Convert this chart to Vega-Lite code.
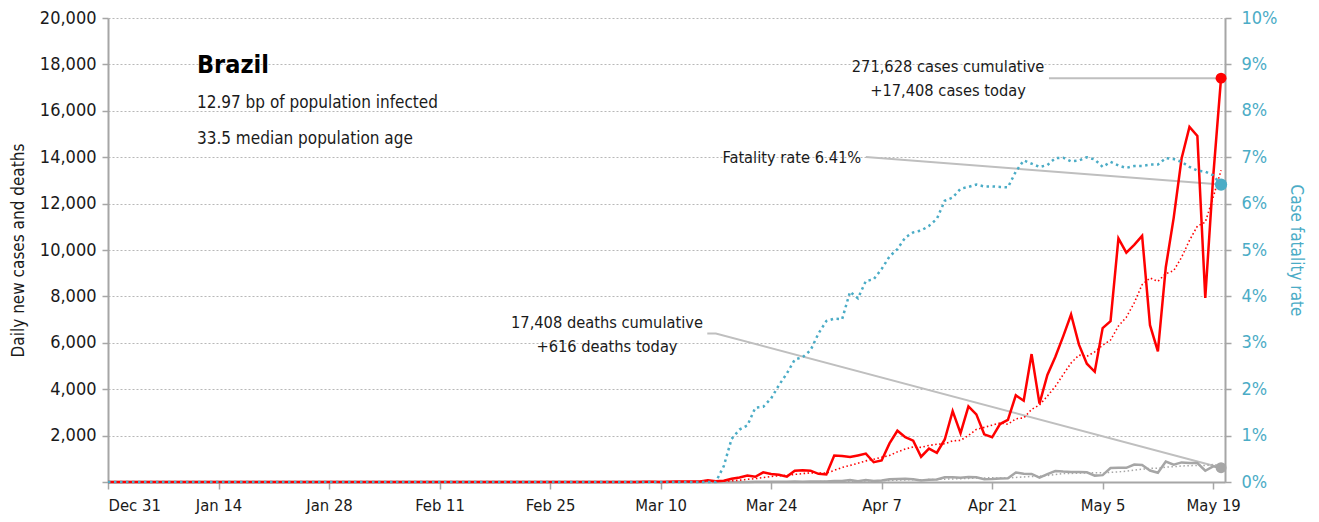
{
  "$schema": "https://vega.github.io/schema/vega-lite/v6.json",
  "width": 1117,
  "height": 464,
  "autosize": {"type": "none"},
  "padding": {"left": 108, "top": 18, "right": 94, "bottom": 40},
  "background": "#ffffff",
  "config": {
    "view": {"stroke": null},
    "font": "DejaVu Sans Condensed, sans-serif",
    "axis": {
      "domainColor": "#a6a6a6", "domainWidth": 2, "tickColor": "#a6a6a6", "tickWidth": 1.5, "tickSize": 6,
      "labelFontSize": 18, "labelColor": "#1a1a1a", "labelFont": "DejaVu Sans Condensed, sans-serif",
      "titleFont": "DejaVu Sans Condensed, sans-serif", "titleFontWeight": "normal", "titleFontSize": 17, "titleColor": "#1a1a1a"
    },
    "axisLeft": {"grid": true, "gridColor": "#b8b8b8", "gridDash": [2, 2], "gridWidth": 1.2, "titlePadding": 12, "labelPadding": 6},
    "axisRight": {"grid": false, "labelColor": "#4bacc6", "titleColor": "#4bacc6", "labelPadding": 10, "titlePadding": 10},
    "axisBottom": {"grid": false, "labelFontSize": 16.5, "labelPadding": 8, "tickSize": 7}
  },
  "data": {
    "format": {"parse": {"d": "date:'%Y-%m-%d'"}},
    "values": [
      {"d": "2019-12-31", "c": 0, "ca": 0, "dd": 0, "da": 0, "f": 0},
      {"d": "2020-01-14", "c": 0, "ca": 0, "dd": 0, "da": 0, "f": 0},
      {"d": "2020-01-28", "c": 0, "ca": 0, "dd": 0, "da": 0, "f": 0},
      {"d": "2020-02-11", "c": 0, "ca": 0, "dd": 0, "da": 0, "f": 0},
      {"d": "2020-02-25", "c": 0, "ca": 0, "dd": 0, "da": 0, "f": 0},
      {"d": "2020-02-26", "c": 0, "ca": 0, "dd": 0, "da": 0, "f": 0},
      {"d": "2020-02-27", "c": 1, "ca": 0.1, "dd": 0, "da": 0, "f": 0},
      {"d": "2020-02-28", "c": 0, "ca": 0.1, "dd": 0, "da": 0, "f": 0},
      {"d": "2020-02-29", "c": 0, "ca": 0.1, "dd": 0, "da": 0, "f": 0},
      {"d": "2020-03-01", "c": 1, "ca": 0.3, "dd": 0, "da": 0, "f": 0},
      {"d": "2020-03-02", "c": 0, "ca": 0.3, "dd": 0, "da": 0, "f": 0},
      {"d": "2020-03-03", "c": 0, "ca": 0.3, "dd": 0, "da": 0, "f": 0},
      {"d": "2020-03-04", "c": 0, "ca": 0.3, "dd": 0, "da": 0, "f": 0},
      {"d": "2020-03-05", "c": 1, "ca": 0.3, "dd": 0, "da": 0, "f": 0},
      {"d": "2020-03-06", "c": 5, "ca": 1.0, "dd": 0, "da": 0, "f": 0},
      {"d": "2020-03-07", "c": 5, "ca": 1.7, "dd": 0, "da": 0, "f": 0},
      {"d": "2020-03-08", "c": 6, "ca": 2.4, "dd": 0, "da": 0, "f": 0},
      {"d": "2020-03-09", "c": 6, "ca": 3.3, "dd": 0, "da": 0, "f": 0},
      {"d": "2020-03-10", "c": 0, "ca": 3.3, "dd": 0, "da": 0, "f": 0},
      {"d": "2020-03-11", "c": 9, "ca": 4.6, "dd": 0, "da": 0, "f": 0},
      {"d": "2020-03-12", "c": 18, "ca": 7, "dd": 0, "da": 0, "f": 0},
      {"d": "2020-03-13", "c": 25, "ca": 9.9, "dd": 0, "da": 0, "f": 0},
      {"d": "2020-03-14", "c": 21, "ca": 12.1, "dd": 0, "da": 0, "f": 0},
      {"d": "2020-03-15", "c": 23, "ca": 14.6, "dd": 0, "da": 0, "f": 0},
      {"d": "2020-03-16", "c": 79, "ca": 25, "dd": 0, "da": 0, "f": 0},
      {"d": "2020-03-17", "c": 34, "ca": 29.9, "dd": 0, "da": 0, "f": 0},
      {"d": "2020-03-18", "c": 57, "ca": 36.7, "dd": 1, "da": 0.1, "f": 0.34},
      {"d": "2020-03-19", "c": 137, "ca": 53.7, "dd": 3, "da": 0.6, "f": 0.93},
      {"d": "2020-03-20", "c": 193, "ca": 77.7, "dd": 3, "da": 1.0, "f": 1.13},
      {"d": "2020-03-21", "c": 283, "ca": 115.1, "dd": 4, "da": 1.6, "f": 1.22},
      {"d": "2020-03-22", "c": 224, "ca": 143.9, "dd": 7, "da": 2.6, "f": 1.60},
      {"d": "2020-03-23", "c": 418, "ca": 192.3, "dd": 7, "da": 3.6, "f": 1.62},
      {"d": "2020-03-24", "c": 345, "ca": 236.7, "dd": 9, "da": 4.9, "f": 1.80},
      {"d": "2020-03-25", "c": 310, "ca": 272.9, "dd": 12, "da": 6.4, "f": 2.09},
      {"d": "2020-03-26", "c": 232, "ca": 286.4, "dd": 11, "da": 7.6, "f": 2.34},
      {"d": "2020-03-27", "c": 482, "ca": 327.7, "dd": 20, "da": 10, "f": 2.64},
      {"d": "2020-03-28", "c": 502, "ca": 359, "dd": 15, "da": 11.6, "f": 2.69},
      {"d": "2020-03-29", "c": 487, "ca": 396.6, "dd": 19, "da": 13.3, "f": 2.84},
      {"d": "2020-03-30", "c": 352, "ca": 387.1, "dd": 25, "da": 15.9, "f": 3.20},
      {"d": "2020-03-31", "c": 323, "ca": 384, "dd": 23, "da": 17.9, "f": 3.47},
      {"d": "2020-04-01", "c": 1138, "ca": 502.3, "dd": 42, "da": 22.1, "f": 3.52},
      {"d": "2020-04-02", "c": 1119, "ca": 629, "dd": 39, "da": 26.1, "f": 3.51},
      {"d": "2020-04-03", "c": 1074, "ca": 713.6, "dd": 84, "da": 35.3, "f": 4.10},
      {"d": "2020-04-04", "c": 1146, "ca": 805.6, "dd": 35, "da": 38.1, "f": 3.96},
      {"d": "2020-04-05", "c": 1222, "ca": 910.6, "dd": 86, "da": 47.7, "f": 4.33},
      {"d": "2020-04-06", "c": 852, "ca": 982, "dd": 41, "da": 50, "f": 4.37},
      {"d": "2020-04-07", "c": 926, "ca": 1068.1, "dd": 67, "da": 56.3, "f": 4.59},
      {"d": "2020-04-08", "c": 1661, "ca": 1142.9, "dd": 114, "da": 66.6, "f": 4.86},
      {"d": "2020-04-09", "c": 2210, "ca": 1298.7, "dd": 133, "da": 80, "f": 5.02},
      {"d": "2020-04-10", "c": 1930, "ca": 1421, "dd": 141, "da": 88.1, "f": 5.27},
      {"d": "2020-04-11", "c": 1781, "ca": 1511.7, "dd": 115, "da": 99.6, "f": 5.38},
      {"d": "2020-04-12", "c": 1089, "ca": 1492.7, "dd": 68, "da": 97, "f": 5.42},
      {"d": "2020-04-13", "c": 1442, "ca": 1577, "dd": 99, "da": 105.3, "f": 5.52},
      {"d": "2020-04-14", "c": 1261, "ca": 1624.9, "dd": 105, "da": 110.7, "f": 5.67},
      {"d": "2020-04-15", "c": 1832, "ca": 1649.3, "dd": 204, "da": 123.6, "f": 6.06},
      {"d": "2020-04-16", "c": 3058, "ca": 1770.4, "dd": 204, "da": 133.7, "f": 6.13},
      {"d": "2020-04-17", "c": 2105, "ca": 1795.4, "dd": 188, "da": 140.4, "f": 6.32},
      {"d": "2020-04-18", "c": 3257, "ca": 2006.3, "dd": 217, "da": 155, "f": 6.36},
      {"d": "2020-04-19", "c": 2917, "ca": 2267.4, "dd": 206, "da": 174.7, "f": 6.41},
      {"d": "2020-04-20", "c": 2055, "ca": 2355, "dd": 115, "da": 177, "f": 6.37},
      {"d": "2020-04-21", "c": 1927, "ca": 2450.1, "dd": 125, "da": 179.9, "f": 6.37},
      {"d": "2020-04-22", "c": 2498, "ca": 2545.3, "dd": 154, "da": 172.7, "f": 6.36},
      {"d": "2020-04-23", "c": 2678, "ca": 2491, "dd": 165, "da": 167.1, "f": 6.35},
      {"d": "2020-04-24", "c": 3735, "ca": 2723.9, "dd": 407, "da": 198.4, "f": 6.69},
      {"d": "2020-04-25", "c": 3503, "ca": 2759, "dd": 357, "da": 218.4, "f": 6.93},
      {"d": "2020-04-26", "c": 5514, "ca": 3130, "dd": 346, "da": 238.4, "f": 6.86},
      {"d": "2020-04-27", "c": 3379, "ca": 3319.1, "dd": 189, "da": 249, "f": 6.79},
      {"d": "2020-04-28", "c": 4613, "ca": 3702.9, "dd": 338, "da": 279.4, "f": 6.83},
      {"d": "2020-04-29", "c": 5385, "ca": 4115.3, "dd": 474, "da": 325.1, "f": 6.98},
      {"d": "2020-04-30", "c": 6276, "ca": 4629.3, "dd": 449, "da": 365.7, "f": 6.99},
      {"d": "2020-05-01", "c": 7218, "ca": 5126.9, "dd": 435, "da": 369.7, "f": 6.91},
      {"d": "2020-05-02", "c": 5919, "ca": 5472, "dd": 428, "da": 379.9, "f": 6.93},
      {"d": "2020-05-03", "c": 5097, "ca": 5412.4, "dd": 421, "da": 390.6, "f": 7.00},
      {"d": "2020-05-04", "c": 4751, "ca": 5608.4, "dd": 275, "da": 402.9, "f": 6.95},
      {"d": "2020-05-05", "c": 6633, "ca": 5897, "dd": 296, "da": 396.9, "f": 6.79},
      {"d": "2020-05-06", "c": 6935, "ca": 6118.4, "dd": 600, "da": 414.9, "f": 6.90},
      {"d": "2020-05-07", "c": 10503, "ca": 6722.3, "dd": 615, "da": 438.6, "f": 6.82},
      {"d": "2020-05-08", "c": 9888, "ca": 7103.7, "dd": 610, "da": 463.6, "f": 6.77},
      {"d": "2020-05-09", "c": 10222, "ca": 7718.4, "dd": 751, "da": 509.7, "f": 6.81},
      {"d": "2020-05-10", "c": 10611, "ca": 8506.1, "dd": 730, "da": 553.9, "f": 6.81},
      {"d": "2020-05-11", "c": 6760, "ca": 8793.1, "dd": 496, "da": 585.4, "f": 6.84},
      {"d": "2020-05-12", "c": 5632, "ca": 8650.1, "dd": 396, "da": 599.7, "f": 6.84},
      {"d": "2020-05-13", "c": 9258, "ca": 8982, "dd": 881, "da": 639.9, "f": 6.98},
      {"d": "2020-05-14", "c": 11385, "ca": 9108, "dd": 749, "da": 659, "f": 6.96},
      {"d": "2020-05-15", "c": 13944, "ca": 9687.4, "dd": 844, "da": 692.4, "f": 6.90},
      {"d": "2020-05-16", "c": 15305, "ca": 10413.6, "dd": 824, "da": 702.9, "f": 6.79},
      {"d": "2020-05-17", "c": 14919, "ca": 11029, "dd": 816, "da": 715.1, "f": 6.71},
      {"d": "2020-05-18", "c": 7938, "ca": 11197.3, "dd": 485, "da": 713.6, "f": 6.69},
      {"d": "2020-05-19", "c": 13140, "ca": 12269.9, "dd": 674, "da": 753.3, "f": 6.61},
      {"d": "2020-05-20", "c": 17408, "ca": 13434.1, "dd": 616, "da": 715.4, "f": 6.41}
    ]
  },
  "encoding": {
    "x": {
      "field": "d", "type": "temporal",
      "scale": {"domain": [{"year": 2019, "month": 12, "date": 31}, {"year": 2020, "month": 5, "date": 20, "hours": 12}]},
      "axis": {
        "title": null, "format": "%b %-d",
        "values": [
          {"year": 2019, "month": 12, "date": 31}, {"year": 2020, "month": 1, "date": 14}, {"year": 2020, "month": 1, "date": 28},
          {"year": 2020, "month": 2, "date": 11}, {"year": 2020, "month": 2, "date": 25}, {"year": 2020, "month": 3, "date": 10},
          {"year": 2020, "month": 3, "date": 24}, {"year": 2020, "month": 4, "date": 7}, {"year": 2020, "month": 4, "date": 21},
          {"year": 2020, "month": 5, "date": 5}, {"year": 2020, "month": 5, "date": 19}
        ]
      }
    }
  },
  "layer": [
    {
      "layer": [
        {
          "data": {
            "format": {"parse": {"d": "date:'%Y-%m-%d %H:%M'"}},
            "values": [
              {"g": "c", "d": "2020-04-28 05:00", "v": 17408},
              {"g": "c", "d": "2020-05-20 00:00", "v": 17408},
              {"g": "f", "d": "2020-04-05 00:00", "v": 14009},
              {"g": "f", "d": "2020-05-20 00:00", "v": 12820},
              {"g": "x", "d": "2020-03-15 22:00", "v": 6400},
              {"g": "x", "d": "2020-03-17 00:00", "v": 6400},
              {"g": "x", "d": "2020-05-20 00:00", "v": 616}
            ]
          },
          "mark": {"type": "line", "color": "#bfbfbf", "strokeWidth": 2},
          "encoding": {
            "y": {"field": "v", "type": "quantitative", "scale": {"domain": [0, 20000]}, "axis": {"orient": "left", "title": "Daily new cases and deaths", "values": [0, 2000, 4000, 6000, 8000, 10000, 12000, 14000, 16000, 18000, 20000], "labelExpr": "datum.value == 0 ? '' : format(datum.value, ',')"}},
            "detail": {"field": "g"}
          }
        },
        {
          "mark": {"type": "line", "color": "#a6a6a6", "strokeWidth": 1.5, "strokeDash": [1.5, 2.5]},
          "encoding": {"y": {"field": "da", "type": "quantitative", "scale": {"domain": [0, 20000]}, "axis": {"orient": "left", "title": "Daily new cases and deaths", "values": [0, 2000, 4000, 6000, 8000, 10000, 12000, 14000, 16000, 18000, 20000], "labelExpr": "datum.value == 0 ? '' : format(datum.value, ',')"}}}
        },
        {
          "mark": {"type": "line", "color": "#a6a6a6", "strokeWidth": 2.5},
          "encoding": {"y": {"field": "dd", "type": "quantitative", "scale": {"domain": [0, 20000]}, "axis": {"orient": "left", "title": "Daily new cases and deaths", "values": [0, 2000, 4000, 6000, 8000, 10000, 12000, 14000, 16000, 18000, 20000], "labelExpr": "datum.value == 0 ? '' : format(datum.value, ',')"}}}
        },
        {
          "mark": {"type": "line", "color": "#ff0000", "strokeWidth": 1.6, "strokeDash": [1.5, 2.5]},
          "encoding": {"y": {"field": "ca", "type": "quantitative", "scale": {"domain": [0, 20000]}, "axis": {"orient": "left", "title": "Daily new cases and deaths", "values": [0, 2000, 4000, 6000, 8000, 10000, 12000, 14000, 16000, 18000, 20000], "labelExpr": "datum.value == 0 ? '' : format(datum.value, ',')"}}}
        },
        {
          "mark": {"type": "line", "color": "#ff0000", "strokeWidth": 2.5},
          "encoding": {"y": {"field": "c", "type": "quantitative", "scale": {"domain": [0, 20000]}, "axis": {"orient": "left", "title": "Daily new cases and deaths", "values": [0, 2000, 4000, 6000, 8000, 10000, 12000, 14000, 16000, 18000, 20000], "labelExpr": "datum.value == 0 ? '' : format(datum.value, ',')"}}}
        },
        {
          "data": {"format": {"parse": {"d": "date:'%Y-%m-%d'"}}, "values": [{"d": "2020-05-20", "v": 616}]},
          "mark": {"type": "circle", "color": "#a6a6a6", "opacity": 1, "size": 120},
          "encoding": {"y": {"field": "v", "type": "quantitative", "scale": {"domain": [0, 20000]}, "axis": {"orient": "left", "title": "Daily new cases and deaths", "values": [0, 2000, 4000, 6000, 8000, 10000, 12000, 14000, 16000, 18000, 20000], "labelExpr": "datum.value == 0 ? '' : format(datum.value, ',')"}}}
        },
        {
          "data": {"format": {"parse": {"d": "date:'%Y-%m-%d'"}}, "values": [{"d": "2020-05-20", "v": 17408}]},
          "mark": {"type": "circle", "color": "#ff0000", "opacity": 1, "size": 120},
          "encoding": {"y": {"field": "v", "type": "quantitative", "scale": {"domain": [0, 20000]}, "axis": {"orient": "left", "title": "Daily new cases and deaths", "values": [0, 2000, 4000, 6000, 8000, 10000, 12000, 14000, 16000, 18000, 20000], "labelExpr": "datum.value == 0 ? '' : format(datum.value, ',')"}}}
        },
        {
          "data": {"format": {"parse": {"d": "date:'%Y-%m-%d %H:%M'"}}, "values": [{"d": "2020-01-11 06:30", "v": 17974, "t": "Brazil"}]},
          "mark": {"type": "text", "align": "left", "baseline": "middle", "fontSize": 25, "fontWeight": "bold", "color": "#000000"},
          "encoding": {"y": {"field": "v", "type": "quantitative", "scale": {"domain": [0, 20000]}, "axis": {"orient": "left", "title": "Daily new cases and deaths", "values": [0, 2000, 4000, 6000, 8000, 10000, 12000, 14000, 16000, 18000, 20000], "labelExpr": "datum.value == 0 ? '' : format(datum.value, ',')"}}, "text": {"field": "t"}}
        },
        {
          "data": {"format": {"parse": {"d": "date:'%Y-%m-%d %H:%M'"}}, "values": [
            {"d": "2020-01-11 06:30", "v": 16336, "t": "12.97 bp of population infected"},
            {"d": "2020-01-11 06:30", "v": 14784, "t": "33.5 median population age"}
          ]},
          "mark": {"type": "text", "align": "left", "baseline": "middle", "fontSize": 17, "color": "#1a1a1a"},
          "encoding": {"y": {"field": "v", "type": "quantitative", "scale": {"domain": [0, 20000]}, "axis": {"orient": "left", "title": "Daily new cases and deaths", "values": [0, 2000, 4000, 6000, 8000, 10000, 12000, 14000, 16000, 18000, 20000], "labelExpr": "datum.value == 0 ? '' : format(datum.value, ',')"}}, "text": {"field": "t"}}
        },
        {
          "data": {"format": {"parse": {"d": "date:'%Y-%m-%d %H:%M'"}}, "values": [
            {"d": "2020-04-15 10:00", "v": 17888, "t": "271,628 cases cumulative"},
            {"d": "2020-04-15 10:00", "v": 16853, "t": "+17,408 cases today"},
            {"d": "2020-03-03 05:00", "v": 6853, "t": "17,408 deaths cumulative"},
            {"d": "2020-03-03 05:00", "v": 5819, "t": "+616 deaths today"}
          ]},
          "mark": {"type": "text", "align": "center", "baseline": "middle", "fontSize": 16.3, "color": "#1a1a1a"},
          "encoding": {"y": {"field": "v", "type": "quantitative", "scale": {"domain": [0, 20000]}, "axis": {"orient": "left", "title": "Daily new cases and deaths", "values": [0, 2000, 4000, 6000, 8000, 10000, 12000, 14000, 16000, 18000, 20000], "labelExpr": "datum.value == 0 ? '' : format(datum.value, ',')"}}, "text": {"field": "t"}}
        },
        {
          "data": {"format": {"parse": {"d": "date:'%Y-%m-%d %H:%M'"}}, "values": [
            {"d": "2020-04-04 10:00", "v": 13966, "t": "Fatality rate 6.41%"}
          ]},
          "mark": {"type": "text", "align": "right", "baseline": "middle", "fontSize": 16.3, "color": "#1a1a1a"},
          "encoding": {"y": {"field": "v", "type": "quantitative", "scale": {"domain": [0, 20000]}, "axis": {"orient": "left", "title": "Daily new cases and deaths", "values": [0, 2000, 4000, 6000, 8000, 10000, 12000, 14000, 16000, 18000, 20000], "labelExpr": "datum.value == 0 ? '' : format(datum.value, ',')"}}, "text": {"field": "t"}}
        }
      ]
    },
    {
      "layer": [
        {
          "mark": {"type": "line", "color": "#4bacc6", "strokeWidth": 2.5, "strokeDash": [2.5, 3.5]},
          "encoding": {"y": {"field": "f", "type": "quantitative", "scale": {"domain": [0, 10]}, "axis": {"orient": "right", "title": "Case fatality rate", "values": [0, 1, 2, 3, 4, 5, 6, 7, 8, 9, 10], "labelExpr": "datum.value + '%'"}}}
        },
        {
          "data": {"format": {"parse": {"d": "date:'%Y-%m-%d'"}}, "values": [{"d": "2020-05-20", "f": 6.41}]},
          "mark": {"type": "circle", "color": "#4bacc6", "opacity": 1, "size": 150},
          "encoding": {"y": {"field": "f", "type": "quantitative", "scale": {"domain": [0, 10]}, "axis": {"orient": "right", "title": "Case fatality rate", "values": [0, 1, 2, 3, 4, 5, 6, 7, 8, 9, 10], "labelExpr": "datum.value + '%'"}}}
        }
      ]
    }
  ],
  "resolve": {"scale": {"y": "independent"}}
}
